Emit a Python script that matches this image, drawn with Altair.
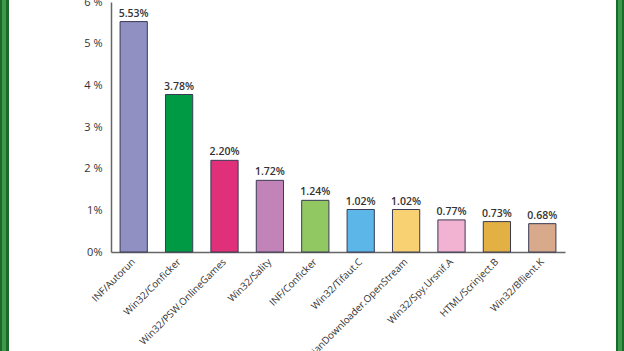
import altair as alt
import pandas as pd

names = ["INF/Autorun", "Win32/Conficker", "Win32/PSW.OnlineGames", "Win32/Sality",
         "INF/Conficker", "Win32/Tifaut.C", "Win32/TrojanDownloader.OpenStream",
         "Win32/Spy.Ursnif.A", "HTML/Scrinject.B", "Win32/Bflient.K"]
values = [5.53, 3.78, 2.20, 1.72, 1.24, 1.02, 1.02, 0.77, 0.73, 0.68]
labels = ["5.53%", "3.78%", "2.20%", "1.72%", "1.24%", "1.02%", "1.02%", "0.77%", "0.73%", "0.68%"]
colors = ["#9090c2", "#009944", "#e0307a", "#c283b8", "#92c862", "#5cb6e8",
          "#f8d272", "#f2b2d2", "#e2b043", "#d8a98a"]

df = pd.DataFrame({"name": names, "value": values, "label": labels, "color": colors})

x = alt.X("name:N", sort=names, title=None,
          scale=alt.Scale(paddingInner=0.4, paddingOuter=0.2),
          axis=alt.Axis(labelAngle=-45, labelAlign="right", labelBaseline="middle",
                        labelFont="Open Sans", labelFontSize=9.8, labelColor="#333333",
                        labelLimit=400, ticks=False, labelPadding=8, domainColor="#666666",
                        domainWidth=1.5, labelOverlap=False))
y = alt.Y("value:Q", title=None,
          scale=alt.Scale(domain=[0, 6], nice=False),
          axis=alt.Axis(values=[0, 1, 2, 3, 4, 5, 6], grid=False, ticks=False,
                        labelExpr="datum.value >= 2 ? datum.value + ' %' : datum.value + '%'",
                        labelFont="Open Sans", labelFontSize=11, labelColor="#333333",
                        labelPadding=9, domainColor="#666666", domainWidth=1.5))

bars = alt.Chart(df).mark_bar(stroke="#3a3a55", strokeWidth=1).encode(
    x=x, y=y, color=alt.Color("color:N", scale=None))

text = alt.Chart(df).mark_text(dy=-8, font="Open Sans", fontSize=10.5, fontWeight=600,
                               color="#333333").encode(
    x=alt.X("name:N", sort=names), y="value:Q", text="label:N")

# green frame stripes on the left and right
stripes = pd.DataFrame({"k": [0]})
left_outer = alt.Chart(stripes).mark_rect(color="#1b6a2c").encode(
    x=alt.value(-111), x2=alt.value(-102), y=alt.value(-2), y2=alt.value(349))
left_inner = alt.Chart(stripes).mark_rect(color="#3d9a48").encode(
    x=alt.value(-109), x2=alt.value(-105), y=alt.value(-2), y2=alt.value(349))
right_outer = alt.Chart(stripes).mark_rect(color="#1b6a2c").encode(
    x=alt.value(505), x2=alt.value(513), y=alt.value(-2), y2=alt.value(349))
right_inner = alt.Chart(stripes).mark_rect(color="#3d9a48").encode(
    x=alt.value(507), x2=alt.value(511), y=alt.value(-2), y2=alt.value(349))

chart = alt.layer(left_outer, left_inner, right_outer, right_inner, bars, text).properties(
    width=454, height=250,
    autosize=alt.AutoSizeParams(type="none"),
    padding={"left": 111, "top": 2, "right": 59, "bottom": 99},
    background="white",
).configure_view(stroke=None)

chart.save("out.html", embed_options={"renderer": "svg", "actions": False})
